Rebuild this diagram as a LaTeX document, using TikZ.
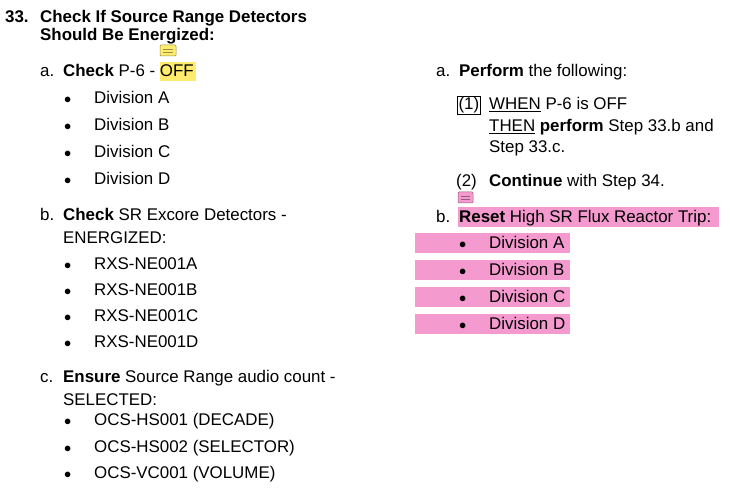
\documentclass[tikz,border=0pt]{standalone}
\usepackage{fontspec}
\setmainfont{Liberation Sans}
\definecolor{notepink}{HTML}{F49ACF}
\definecolor{noteyellow}{HTML}{FFEC6E}
\tikzset{
  txt/.style={anchor=base west, inner sep=0pt, font=\fontsize{16.9}{19}\selectfont},
  dot/.style={anchor=base west, inner sep=0pt, font=\fontsize{14}{16}\selectfont},
  note/.style={draw=#1!60!black, fill=#1, rounded corners=1pt, line width=0.5pt}
}
\begin{document}
\begin{tikzpicture}[x=1pt,y=-1pt]
  \useasboundingbox (0,0) rectangle (732,494);
  % highlights
  \fill[noteyellow] (160,62) rectangle (196,81);
  \fill[notepink] (458,207) rectangle (719,227);
  \foreach \y in {233,260,287,314}
    \fill[notepink] (415,\y) rectangle (570,\y+20);
  % note icons
  \draw[note=noteyellow] (160,45) rectangle (176,56);
  \draw[noteyellow!60!black] (163,49) -- (173,49) (163,52) -- (173,52);
  \draw[note=notepink] (458,192) rectangle (473,203);
  \draw[notepink!60!black] (461,196) -- (470,196) (461,199) -- (470,199);
  % title
  \node[txt] (num) at (5,23) {\bfseries 33.};
  \node[txt] (ttl1) at (40,23) {\bfseries Check If Source Range Detectors};
  \node[txt] (ttl2) at (40,41) {\bfseries Should Be Energized:};
  % left column
  \node[txt] (la) at (40,77) {a.};
  \node[txt] (lat) at (63,77) {\textbf{Check} P-6 - OFF};
  \foreach \t [count=\i] in {Division A,Division B,Division C,Division D}{
    \node[dot] (lad\i) at (64,104+26.7*\i-26.7) {$\bullet$};
    \node[txt] (lat\i) at (94,104+26.7*\i-26.7) {\t};
  }
  \node[txt] (lb) at (40,221) {b.};
  \node[txt] (lbt) at (63,221) {\textbf{Check} SR Excore Detectors -};
  \node[txt] (lbt2) at (63,244) {ENERGIZED:};
  \foreach \t [count=\i] in {RXS-NE001A,RXS-NE001B,RXS-NE001C,RXS-NE001D}{
    \node[dot] (lbd\i) at (64,270+26*\i-26) {$\bullet$};
    \node[txt] (lbt\i) at (94,270+26*\i-26) {\t};
  }
  \node[txt] (lc) at (40,383) {c.};
  \node[txt] (lct) at (63,383) {\textbf{Ensure} Source Range audio count -};
  \node[txt] (lct2) at (63,406) {SELECTED:};
  \foreach \t [count=\i] in {OCS-HS001 (DECADE),OCS-HS002 (SELECTOR),OCS-VC001 (VOLUME)}{
    \node[dot] (lcd\i) at (64,426+26.5*\i-26.5) {$\bullet$};
    \node[txt] (lct\i) at (94,426+26.5*\i-26.5) {\t};
  }
  % right column
  \node[txt] (ra) at (436,77) {a.};
  \node[txt] (rat) at (459,77) {\textbf{Perform} the following:};
  \node[txt, draw, line width=1.2pt, inner sep=1pt] (r1) at (457,110) {(1)};
  \node[txt] (r1a) at (489,110) {\underline{WHEN} P-6 is OFF};
  \node[txt] (r1b) at (489,132) {\underline{THEN} \textbf{perform} Step 33.b and};
  \node[txt] (r1c) at (489,153) {Step 33.c.};
  \node[txt] (r2) at (456,187) {(2)};
  \node[txt] (r2a) at (489,187) {\textbf{Continue} with Step 34.};
  \node[txt] (rb) at (436,223) {b.};
  \node[txt] (rbt) at (459,223) {\textbf{Reset} High SR Flux Reactor Trip:};
  \foreach \t [count=\i] in {Division A,Division B,Division C,Division D}{
    \node[dot] (rbd\i) at (459,249+27*\i-27) {$\bullet$};
    \node[txt] (rbt\i) at (489,249+27*\i-27) {\t};
  }
\end{tikzpicture}
\end{document}
